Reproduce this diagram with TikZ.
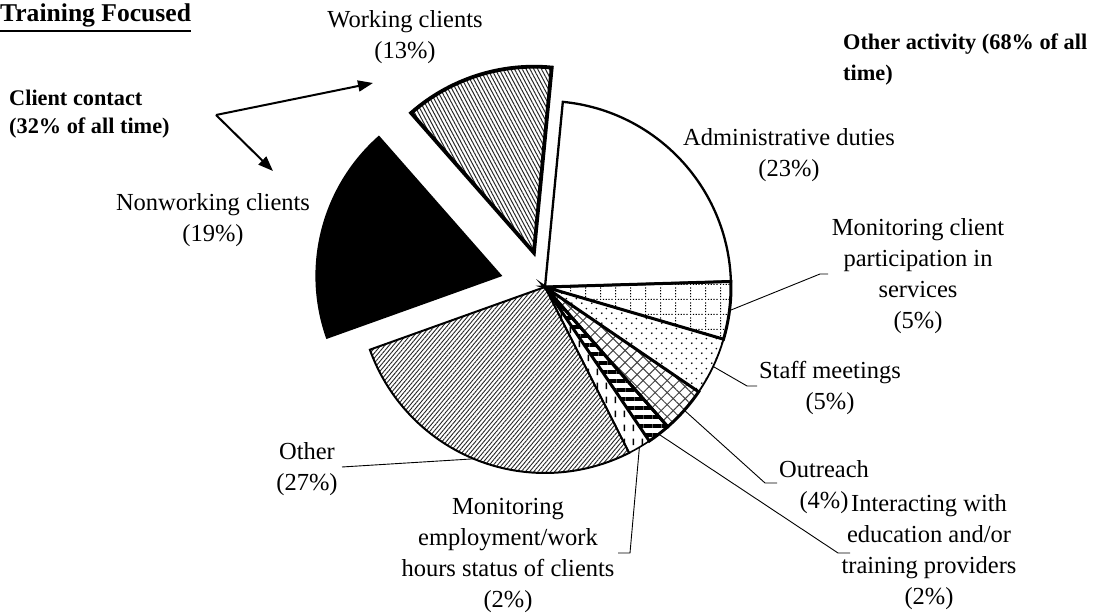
\documentclass[tikz,border=0pt]{standalone}
\usepackage{fontspec}
\setmainfont{Liberation Serif}
\usetikzlibrary{patterns.meta,arrows.meta}

\pgfdeclarepattern{
  name=dotgrid, type=uncolored,
  bottom left={\pgfpoint{0pt}{0pt}},
  top right={\pgfpoint{15pt}{15pt}},
  tile size={\pgfpoint{15pt}{15pt}},
  code={
    \pgfpathrectangle{\pgfpoint{0pt}{0pt}}{\pgfpoint{1.3pt}{1.3pt}}
    \pgfpathrectangle{\pgfpoint{0pt}{3pt}}{\pgfpoint{1.3pt}{1.3pt}}
    \pgfpathrectangle{\pgfpoint{0pt}{6pt}}{\pgfpoint{1.3pt}{1.3pt}}
    \pgfpathrectangle{\pgfpoint{0pt}{9pt}}{\pgfpoint{1.3pt}{1.3pt}}
    \pgfpathrectangle{\pgfpoint{0pt}{12pt}}{\pgfpoint{1.3pt}{1.3pt}}
    \pgfpathrectangle{\pgfpoint{3pt}{0pt}}{\pgfpoint{1.3pt}{1.3pt}}
    \pgfpathrectangle{\pgfpoint{6pt}{0pt}}{\pgfpoint{1.3pt}{1.3pt}}
    \pgfpathrectangle{\pgfpoint{9pt}{0pt}}{\pgfpoint{1.3pt}{1.3pt}}
    \pgfpathrectangle{\pgfpoint{12pt}{0pt}}{\pgfpoint{1.3pt}{1.3pt}}
    \pgfusepath{fill}
  }
}
\pgfdeclarepattern{
  name=sparsedots, type=uncolored,
  bottom left={\pgfpoint{0pt}{0pt}},
  top right={\pgfpoint{10pt}{10pt}},
  tile size={\pgfpoint{10pt}{10pt}},
  code={
    \pgfpathcircle{\pgfpoint{2pt}{2pt}}{1pt}
    \pgfpathcircle{\pgfpoint{7pt}{7pt}}{1pt}
    \pgfusepath{fill}
  }
}
\pgfdeclarepattern{
  name=vdashes, type=uncolored,
  bottom left={\pgfpoint{0pt}{0pt}},
  top right={\pgfpoint{9pt}{14pt}},
  tile size={\pgfpoint{9pt}{14pt}},
  code={
    \pgfpathrectangle{\pgfpoint{3pt}{2pt}}{\pgfpoint{1.5pt}{7pt}}
    \pgfusepath{fill}
  }
}

\begin{document}
\begin{tikzpicture}[x=1pt,y=1pt,
  lbl/.style={inner sep=0pt, align=center, font=\fontsize{24.5}{31}\selectfont},
  blbl/.style={inner sep=0pt, align=left, font=\bfseries\fontsize{22.3}{30}\selectfont},
  leader/.style={line width=0.9pt},
  bigarrow/.style={line width=2pt, -{Triangle[length=15pt,width=11pt]}}]
\useasboundingbox (0,0) rectangle (1093,615);
\coordinate (c) at (545,328);
\coordinate (cw) at (533.9,362.3);
\coordinate (cn) at (502.4,339);

% Other (27%)
\draw[line width=2pt, pattern={Lines[angle=50,distance=3.2pt,line width=0.9pt]}, pattern color=black!85]
  (c) -- ++(199.7:186) arc[start angle=199.7,end angle=296.9,radius=186] -- cycle;
% Monitoring employment (2%)
\draw[line width=1.6pt, pattern=vdashes]
  (c) -- ++(296.9:186) arc[start angle=296.9,end angle=304.1,radius=186] -- cycle;
% Staff meetings (5%)
\draw[line width=1.8pt, pattern=sparsedots]
  (c) -- ++(325.7:186) arc[start angle=325.7,end angle=343.7,radius=186] -- cycle;
% Admin (23%)
\draw[line width=2.3pt, fill=white]
  (c) -- ++(1.7:186) arc[start angle=1.7,end angle=84.5,radius=186] -- cycle;
% Outreach (4%)
\draw[line width=3pt, pattern={Lines[angle=45,distance=8.5pt,line width=1pt]}, pattern color=black!75,
  preaction={pattern={Lines[angle=-45,distance=8.5pt,line width=1pt]}, pattern color=black!75}]
  (c) -- ++(311.3:186) arc[start angle=311.3,end angle=325.7,radius=186] -- cycle;
% Interacting (2%)
\draw[line width=3pt, pattern={Lines[angle=0,distance=9pt,line width=3.5pt]}]
  (c) -- ++(304.1:186) arc[start angle=304.1,end angle=311.3,radius=186] -- cycle;
% Monitoring client participation (5%)
\draw[line width=3pt, pattern=dotgrid]
  (c) -- ++(343.7:186) arc[start angle=343.7,end angle=361.7,radius=186] -- cycle;
% Nonworking clients (19%)
\fill[black]
  (cn) -- ++(131.3:187) arc[start angle=131.3,end angle=199.7,radius=187] -- cycle;
% Working clients (13%)
\draw[line width=3.8pt, pattern={Lines[angle=-62,distance=3.4pt,line width=1pt]}, pattern color=black!85]
  (cw) -- ++(84.5:186) arc[start angle=84.5,end angle=131.3,radius=186] -- cycle;

% labels
\node[lbl] (lwork) at (405,578) {Working clients\\(13\%)};
\node[lbl] (ladmin) at (789,460) {Administrative duties\\(23\%)};
\node[lbl] (lmcp) at (918,339) {Monitoring client\\participation in\\services\\(5\%)};
\node[lbl] (lstaff) at (830,227) {Staff meetings\\(5\%)};
\node[lbl] (lout) at (824,128) {Outreach\\(4\%)};
\node[lbl] (lint) at (929,63) {Interacting with\\education and/or\\training providers\\(2\%)};
\node[lbl] (lmon) at (508,59) {Monitoring\\employment/work\\hours status of clients\\(2\%)};
\node[lbl] (loth) at (307,146) {Other\\(27\%)};
\node[lbl] (lnon) at (213,395) {Nonworking clients\\(19\%)};
\node[blbl, anchor=north west, font=\bfseries\fontsize{22.3}{28}\selectfont] (lcc) at (9,525) {Client contact\\(32\% of all time)};
\node[blbl, anchor=north west, font=\bfseries\fontsize{22.3}{31}\selectfont] (loa) at (843,581) {Other activity (68\% of all\\time)};
\node[inner sep=0pt, anchor=base west, font=\bfseries\fontsize{25.6}{30}\selectfont] (title) at (0,593) {Training Focused};
\draw[line width=2.4pt] ([yshift=-9pt]title.base west) -- ([yshift=-9pt]title.base east);

% client contact arrows
\coordinate (ccv) at (216,500);
\coordinate (aw) at (373,532);
\coordinate (an) at (273,444);
\draw[bigarrow] (ccv) -- (aw);
\draw[bigarrow] (ccv) -- (an);

% leader lines
\coordinate (pmcp) at ([shift={(-7.3:186)}]c);
\coordinate (bmcp) at (820,341);
\coordinate (emcp) at (828,341);
\draw[leader] (pmcp) -- (bmcp) -- (emcp);
\coordinate (pst) at ([shift={(-25.3:186)}]c);
\coordinate (bst) at (747,229);
\coordinate (est) at (757,229);
\draw[leader] (pst) -- (bst) -- (est);
\coordinate (pou) at ([shift={(-41.5:186)}]c);
\coordinate (bou) at (765,132);
\coordinate (eou) at (777,132);
\draw[leader] (pou) -- (bou) -- (eou);
\coordinate (pin) at ([shift={(-52.3:186)}]c);
\coordinate (bin) at (838,62);
\coordinate (ein) at (850,62);
\draw[leader] (pin) -- (bin) -- (ein);
\coordinate (pmo) at ([shift={(-59.5:186)}]c);
\coordinate (bmo) at (630,62);
\coordinate (emo) at (618,62);
\draw[leader] (pmo) -- (bmo) -- (emo);
\coordinate (pot) at ([shift={(-112.5:186)}]c);
\coordinate (eot) at (342,148);
\draw[leader] (pot) -- (eot);
\end{tikzpicture}
\end{document}
